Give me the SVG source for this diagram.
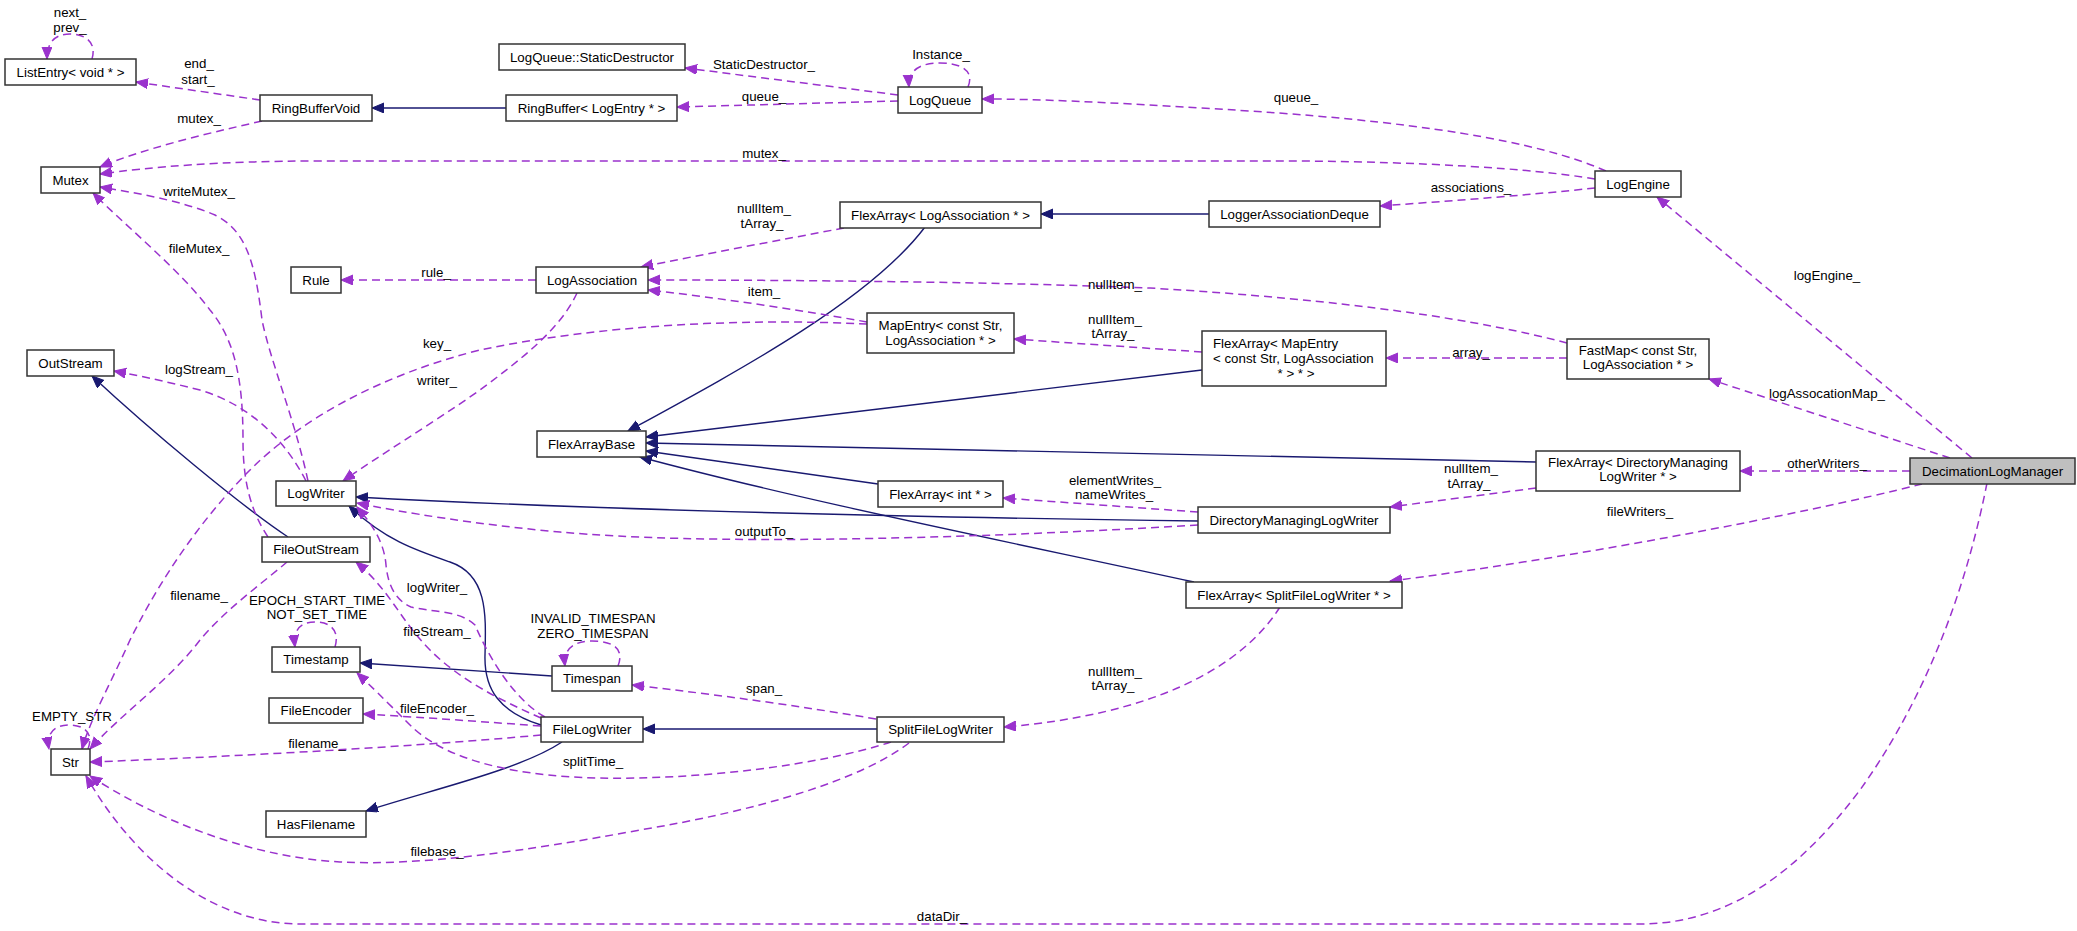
<svg xmlns="http://www.w3.org/2000/svg" width="2077" height="931" viewBox="0 0 2077 931">
<style>
.bg{fill:#ffffff}
.n rect{fill:#ffffff;stroke:#333333;stroke-width:1.5}
.n rect.cur{fill:#bfbfbf}
text{font-family:"Liberation Sans",Arial,Helvetica,sans-serif;font-size:13.3px;fill:#000000;text-anchor:middle}
text.s{text-anchor:start}
.e{fill:none;stroke:#9a32cd;stroke-width:1.5;stroke-dasharray:8,5;marker-end:url(#ap)}
.i{fill:none;stroke:#191970;stroke-width:1.4;marker-end:url(#an)}
</style>
<defs>
<marker id="ap" markerUnits="userSpaceOnUse" markerWidth="13" markerHeight="11" refX="12" refY="5" orient="auto"><path d="M0,0 L12,5 L0,10 z" fill="#9a32cd" stroke="#9a32cd" stroke-width="1"/></marker>
<marker id="an" markerUnits="userSpaceOnUse" markerWidth="13" markerHeight="11" refX="12" refY="5" orient="auto"><path d="M0,0 L12,5 L0,10 z" fill="#191970" stroke="#191970" stroke-width="1"/></marker>
</defs>
<rect class="bg" x="0" y="0" width="2077" height="931"/>

<g id="connectors">
<!-- inheritance -->
<path class="i" d="M506,108 L372,108"/>
<path class="i" d="M1209,214 L1041,214"/>
<path class="i" d="M925,227 C870,300 740,370 628,431"/>
<path class="i" d="M1202,370 L646,437"/>
<path class="i" d="M1536,462 L646,443"/>
<path class="i" d="M878,484 L646,451"/>
<path class="i" d="M1194,582 C1000,540 800,500 640,457"/>
<path class="i" d="M1198,521 C900,517 600,510 356,497"/>
<path class="i" d="M288,537 C240,505 150,430 92,376"/>
<path class="i" d="M541,725 C500,712 484,690 485,655 C486,615 488,575 450,562 C415,550 385,540 349,506"/>
<path class="i" d="M552,676 L360,663"/>
<path class="i" d="M877,729 L643,729"/>
<path class="i" d="M562,742 C520,770 430,790 366,811"/>
<!-- usage -->
<path class="e" d="M92,59 C97,42 85,34 70,34 C57,34 47,40 47,59"/>
<path class="e" d="M260,100 L136,82"/>
<path class="e" d="M262,121 C200,135 140,150 100,167"/>
<path class="e" d="M898,95 L685,68"/>
<path class="e" d="M898,101 L677,107"/>
<path class="e" d="M968,87 C975,70 960,63 940,63 C920,63 908,70 909,87"/>
<path class="e" d="M1606,171 C1540,142 1420,120 1200,108 C1100,102 1040,99 982,99"/>
<path class="e" d="M1595,179 C1530,168 1420,162 1300,161 L320,161 C220,161 150,167 100,174"/>
<path class="e" d="M1595,188 C1530,195 1450,201 1380,206"/>
<path class="e" d="M1972,458 L1657,197"/>
<path class="e" d="M844,228 C780,240 700,255 641,267"/>
<path class="e" d="M536,280 L341,280"/>
<path class="e" d="M1567,343 C1480,320 1350,300 1150,288 C1000,282 800,280 648,280"/>
<path class="e" d="M867,322 C800,310 720,298 648,290"/>
<path class="e" d="M867,324 C740,318 600,325 480,350 C380,375 300,420 250,470 C200,520 160,580 130,640 C110,685 90,720 82,749"/>
<path class="e" d="M577,293 C560,330 520,360 480,390 C430,425 380,455 343,481"/>
<path class="e" d="M1202,352 L1014,339"/>
<path class="e" d="M1567,358 L1386,358"/>
<path class="e" d="M1950,458 L1709,379"/>
<path class="e" d="M1910,471 L1740,471"/>
<path class="e" d="M1536,488 L1390,507"/>
<path class="e" d="M1922,484 C1800,515 1560,560 1390,581"/>
<path class="e" d="M1280,607 C1240,670 1150,715 1004,727"/>
<path class="e" d="M1198,512 L1003,498"/>
<path class="e" d="M1198,525 C950,540 700,545 560,532 C480,525 400,512 357,503"/>
<path class="e" d="M308,481 C295,420 270,360 262,320 C255,260 245,230 215,215 C180,200 130,192 100,187"/>
<path class="e" d="M306,481 C285,440 250,405 200,390 C160,380 135,375 114,371"/>
<path class="e" d="M268,537 C250,510 243,480 243,440 C243,380 235,340 210,310 C180,270 130,230 93,193"/>
<path class="e" d="M287,562 C260,585 225,610 200,640 C170,680 120,715 90,749"/>
<path class="e" d="M541,718 C500,700 460,680 430,650 C400,620 390,590 356,562"/>
<path class="e" d="M545,717 C515,700 490,660 475,625 C460,610 430,612 411,607 C395,600 388,585 386,565 C384,540 370,522 357,507"/>
<path class="e" d="M335,647 C340,630 330,622 315,622 C300,622 293,630 295,647"/>
<path class="e" d="M618,666 C625,648 612,641 592,641 C575,641 563,648 565,666"/>
<path class="e" d="M88,749 C95,730 80,725 70,725 C55,725 46,732 49,749"/>
<path class="e" d="M891,742 C820,765 700,780 600,778 C500,776 440,755 410,725 C385,700 370,685 357,673"/>
<path class="e" d="M876,719 C800,706 720,695 632,685"/>
<path class="e" d="M541,726 C460,720 400,716 363,714"/>
<path class="e" d="M541,735 C400,748 200,758 90,762"/>
<path class="e" d="M909,743 C860,780 760,810 640,830 C520,852 420,866 340,862 C240,856 150,815 90,776"/>
<path class="e" d="M1987,483 C1960,620 1910,720 1860,790 C1800,870 1730,924 1640,924 L300,924 C220,924 140,870 86,776"/>
<!-- labels -->
<text x="70" y="16.7">next_</text>
<text x="70" y="31.7">prev_</text>
<text x="199" y="67.7">end_</text>
<text x="198" y="83.7">start_</text>
<text x="199" y="122.7">mutex_</text>
<text x="764" y="68.7">StaticDestructor_</text>
<text x="764" y="100.7">queue_</text>
<text x="941" y="58.7">Instance_</text>
<text x="1296" y="101.7">queue_</text>
<text x="764" y="157.7">mutex_</text>
<text x="1471" y="191.7">associations_</text>
<text x="199" y="195.7">writeMutex_</text>
<text x="764" y="212.7">nullItem_</text>
<text x="762" y="227.7">tArray_</text>
<text x="199" y="252.7">fileMutex_</text>
<text x="436" y="276.7">rule_</text>
<text x="1827" y="279.7">logEngine_</text>
<text x="1115" y="288.7">nullItem_</text>
<text x="764" y="295.7">item_</text>
<text x="1115" y="323.7">nullItem_</text>
<text x="1113" y="337.7">tArray_</text>
<text x="437" y="347.7">key_</text>
<text x="1471" y="356.7">array_</text>
<text x="199" y="373.7">logStream_</text>
<text x="437" y="384.7">writer_</text>
<text x="1827" y="397.7">logAssocationMap_</text>
<text x="1827" y="467.7">otherWriters_</text>
<text x="1471" y="472.7">nullItem_</text>
<text x="1469" y="487.7">tArray_</text>
<text x="1115" y="484.7">elementWrites_</text>
<text x="1114" y="498.7">nameWrites_</text>
<text x="1640" y="515.7">fileWriters_</text>
<text x="764" y="535.7">outputTo_</text>
<text x="437" y="591.7">logWriter_</text>
<text x="199" y="599.7">filename_</text>
<text x="317" y="604.7">EPOCH_START_TIME</text>
<text x="317" y="618.7">NOT_SET_TIME</text>
<text x="593" y="622.7">INVALID_TIMESPAN</text>
<text x="593" y="637.7">ZERO_TIMESPAN</text>
<text x="437" y="635.7">fileStream_</text>
<text x="1115" y="675.7">nullItem_</text>
<text x="1113" y="689.7">tArray_</text>
<text x="764" y="692.7">span_</text>
<text x="437" y="712.7">fileEncoder_</text>
<text x="72" y="721.2">EMPTY_STR</text>
<text x="317" y="747.7">filename_</text>
<text x="593" y="765.7">splitTime_</text>
<text x="437" y="855.7">filebase_</text>
<text x="942" y="920.7">dataDir_</text>
</g>

<g id="ListEntry" class="n"><rect x="5" y="59" width="131" height="26"/><text x="70.5" y="76.7">ListEntry&lt; void * &gt;</text></g>
<g id="LogQueue_StaticDestructor" class="n"><rect x="499" y="44" width="186" height="26"/><text x="592" y="61.7">LogQueue::StaticDestructor</text></g>
<g id="RingBufferVoid" class="n"><rect x="260" y="95" width="112" height="26"/><text x="316" y="112.7">RingBufferVoid</text></g>
<g id="RingBuffer" class="n"><rect x="506" y="95" width="171" height="26"/><text x="591.5" y="112.7">RingBuffer&lt; LogEntry * &gt;</text></g>
<g id="LogQueue" class="n"><rect x="898" y="87" width="84" height="26"/><text x="940" y="104.7">LogQueue</text></g>
<g id="Mutex" class="n"><rect x="41" y="167" width="59" height="26"/><text x="70.5" y="184.7">Mutex</text></g>
<g id="LogEngine" class="n"><rect x="1595" y="171" width="86" height="26"/><text x="1638" y="188.7">LogEngine</text></g>
<g id="FlexArray_LogAssociation" class="n"><rect x="840" y="202" width="201" height="26"/><text x="940.5" y="219.7">FlexArray&lt; LogAssociation * &gt;</text></g>
<g id="LoggerAssociationDeque" class="n"><rect x="1209" y="201" width="171" height="26"/><text x="1294.5" y="218.7">LoggerAssociationDeque</text></g>
<g id="Rule" class="n"><rect x="291" y="267" width="50" height="26"/><text x="316" y="284.7">Rule</text></g>
<g id="LogAssociation" class="n"><rect x="536" y="267" width="112" height="26"/><text x="592" y="284.7">LogAssociation</text></g>
<g id="MapEntry" class="n"><rect x="867" y="313" width="147" height="40"/><text x="940.5" y="329.7">MapEntry&lt; const Str,</text><text x="940.5" y="344.7">LogAssociation * &gt;</text></g>
<g id="FlexArray_MapEntry" class="n"><rect x="1202" y="331" width="184" height="55"/><text class="s" x="1213" y="347.7">FlexArray&lt; MapEntry</text><text class="s" x="1213" y="362.7">&lt; const Str, LogAssociation</text><text x="1296" y="377.7">* &gt; * &gt;</text></g>
<g id="FastMap" class="n"><rect x="1567" y="339" width="142" height="40"/><text x="1638" y="355.4">FastMap&lt; const Str,</text><text x="1638" y="369.4">LogAssociation * &gt;</text></g>
<g id="OutStream" class="n"><rect x="27" y="350" width="87" height="26"/><text x="70.5" y="367.7">OutStream</text></g>
<g id="FlexArrayBase" class="n"><rect x="537" y="431" width="109" height="26"/><text x="591.5" y="448.7">FlexArrayBase</text></g>
<g id="FlexArray_DirectoryManagingLogWriter" class="n"><rect x="1536" y="451" width="204" height="40"/><text x="1638" y="467.4">FlexArray&lt; DirectoryManaging</text><text x="1638" y="481.4">LogWriter * &gt;</text></g>
<g id="DecimationLogManager" class="n"><rect class="cur" x="1910" y="458" width="165" height="26"/><text x="1992.5" y="475.7">DecimationLogManager</text></g>
<g id="LogWriter" class="n"><rect x="276" y="481" width="80" height="25"/><text x="316" y="498.2">LogWriter</text></g>
<g id="FlexArray_int" class="n"><rect x="878" y="481" width="125" height="26"/><text x="940.5" y="498.7">FlexArray&lt; int * &gt;</text></g>
<g id="DirectoryManagingLogWriter" class="n"><rect x="1198" y="507" width="192" height="26"/><text x="1294" y="524.7">DirectoryManagingLogWriter</text></g>
<g id="FileOutStream" class="n"><rect x="262" y="537" width="108" height="25"/><text x="316" y="554.2">FileOutStream</text></g>
<g id="FlexArray_SplitFileLogWriter" class="n"><rect x="1186" y="582" width="216" height="26"/><text x="1294" y="599.7">FlexArray&lt; SplitFileLogWriter * &gt;</text></g>
<g id="Timestamp" class="n"><rect x="272" y="647" width="88" height="25"/><text x="316" y="664.2">Timestamp</text></g>
<g id="Timespan" class="n"><rect x="552" y="666" width="80" height="25"/><text x="592" y="683.2">Timespan</text></g>
<g id="FileEncoder" class="n"><rect x="269" y="698" width="94" height="25"/><text x="316" y="715.2">FileEncoder</text></g>
<g id="FileLogWriter" class="n"><rect x="541" y="717" width="102" height="25"/><text x="592" y="734.2">FileLogWriter</text></g>
<g id="SplitFileLogWriter" class="n"><rect x="877" y="717" width="127" height="25"/><text x="940.5" y="734.2">SplitFileLogWriter</text></g>
<g id="Str" class="n"><rect x="51" y="749" width="39" height="26"/><text x="70.5" y="766.7">Str</text></g>
<g id="HasFilename" class="n"><rect x="266" y="811" width="100" height="26"/><text x="316" y="828.7">HasFilename</text></g>
</svg>
